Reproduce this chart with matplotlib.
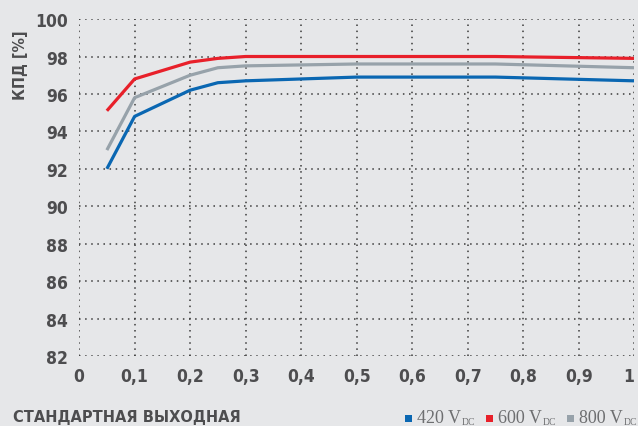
import matplotlib
matplotlib.use("Agg")
import matplotlib.pyplot as plt
from matplotlib.patches import Rectangle
from matplotlib.transforms import IdentityTransform

load = [0.05, 0.1, 0.2, 0.25, 0.3, 0.5, 0.75, 1.0]
eff_420 = [92.0, 94.8, 96.2, 96.6, 96.7, 96.9, 96.9, 96.7]
eff_600 = [95.1, 96.8, 97.7, 97.9, 98.0, 98.0, 98.0, 97.9]
eff_800 = [93.0, 95.8, 97.0, 97.4, 97.5, 97.6, 97.6, 97.4]
series_main = ["420 V", "600 V", "800 V"]
series_sub = "DC"
colors = ["#0a67b2", "#e8202a", "#97a2aa"]
xticks = [0, 0.1, 0.2, 0.3, 0.4, 0.5, 0.6, 0.7, 0.8, 0.9, 1.0]
xticklabels = ["0", "0,1", "0,2", "0,3", "0,4", "0,5", "0,6", "0,7", "0,8", "0,9", "1"]
yticks = list(range(82, 101, 2))

bg = "#e6e7e9"
txt = "#4d4d4f"
fig = plt.figure(figsize=(6.38, 4.27), dpi=100, facecolor=bg)
ax = fig.add_axes([0.124, 0.164, 0.870, 0.789], facecolor=bg)

for y, c in zip([eff_420, eff_600, eff_800], colors):
    ax.plot(load, y, color=c, lw=2.3, solid_capstyle='butt', zorder=3)

ax.set_xlim(0, 1)
ax.set_ylim(82, 100)
ax.set_xticks(xticks)
ax.set_xticklabels(xticklabels)
ax.set_yticks(yticks)
for s in ax.spines.values():
    s.set_visible(False)
ax.tick_params(length=0, labelsize=12.5, colors=txt, pad=8)
for lab in ax.get_xticklabels() + ax.get_yticklabels():
    lab.set_fontweight('bold')
    lab.set_family('DejaVu Sans')
    lab.set_fontstretch('condensed')
ax.get_xticklabels()[-1].set_ha('right')
ax.grid(True, color="#3a3a3a", linestyle=(0, (1, 3)), linewidth=1.1, zorder=1)
ax.set_ylabel("КПД [%]", fontsize=11.5, fontweight='bold', color=txt, fontstretch='condensed')
ax.yaxis.set_label_coords(-0.092, 0.865)

fig.text(13 / 638, 5 / 427, "СТАНДАРТНАЯ ВЫХОДНАЯ", fontsize=11.7, fontweight='bold', color=txt,
         ha='left', va='baseline', fontstretch='condensed')

# legend drawn manually (small subscript), laid out right to left in pixels
fig.canvas.draw()
renderer = fig.canvas.get_renderer()
ident = IdentityTransform()
leg_col = "#6d6e70"
x = 637.0
base = 4.0
for i in reversed(range(len(colors))):
    ts = fig.text(x, base - 2.5, series_sub, fontsize=7, family='Liberation Serif', color=leg_col,
                  ha='right', va='baseline', transform=ident)
    wsub = ts.get_window_extent(renderer).width
    tm = fig.text(x - wsub - 0.5, base, series_main[i], fontsize=13, family='Liberation Serif',
                  color=leg_col, ha='right', va='baseline', transform=ident)
    wmain = tm.get_window_extent(renderer).width
    sq_right = x - wsub - 0.5 - wmain - 5
    fig.add_artist(Rectangle((sq_right - 7, base), 7, 7, facecolor=colors[i], edgecolor='none',
                             transform=ident))
    x = sq_right - 7 - 11

fig.savefig("out.png", dpi=100, facecolor=bg)
